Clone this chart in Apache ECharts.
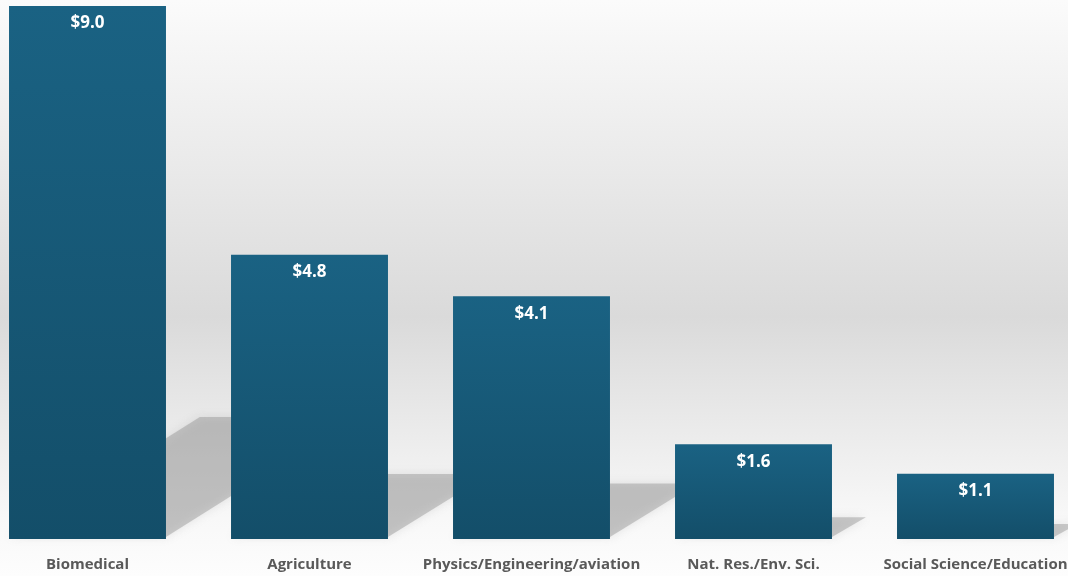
<!DOCTYPE html>
<html>
<head>
<meta charset="utf-8">
<script src="https://cdn.jsdelivr.net/npm/echarts@6/dist/echarts.min.js"></script>
<style>
html,body{margin:0;padding:0;}
#chart{width:1068px;height:576px;}
</style>
</head>
<body>
<div id="chart"></div>
<script>
const categories = ['Biomedical', 'Agriculture', 'Physics/Engineering/aviation', 'Nat. Res./Env. Sci.', 'Social Science/Education'];
const values = [9.0, 4.8, 4.1, 1.6, 1.1];

const chart = echarts.init(document.getElementById('chart'));

const BAR_FRAC = 0.707;

function shadowItem(params, api) {
  const idx = api.value(0);
  const v = api.value(1);
  const base = api.coord([idx, 0]);
  const top = api.coord([idx, v]);
  const bw = api.size([1, 0])[0] * BAR_FRAC;
  const xL = base[0] - bw / 2;
  const xR = base[0] + bw / 2;
  const yb = base[1];
  const h = yb - top[1];
  const dx = 0.358 * h;
  const dy = 0.229 * h;
  return {
    type: 'polygon',
    shape: { points: [[xL, yb - 2], [xR, yb - 2], [xR + dx, yb - dy], [xL + dx, yb - dy]] },
    style: {
      fill: 'rgba(140,140,140,0.42)',
      shadowBlur: 10,
      shadowColor: 'rgba(140,140,140,0.45)'
    }
  };
}

chart.setOption({
  backgroundColor: new echarts.graphic.LinearGradient(0, 0, 0, 1, [
    { offset: 0, color: '#fbfbfb' },
    { offset: 0.55, color: '#dadada' },
    { offset: 0.9, color: '#f8f8f8' },
    { offset: 1, color: '#fdfdfd' }
  ]),
  animation: false,
  grid: { left: -23.5, width: 1110, top: 6, bottom: 37, outerBoundsMode: 'none', containLabel: false },
  xAxis: {
    type: 'category',
    data: categories,
    axisLine: { show: false },
    axisTick: { show: false },
    axisLabel: {
      interval: 0,
      margin: 18,
      color: '#595959',
      fontWeight: 'bold',
      fontSize: 15,
      fontFamily: 'Open Sans, Noto Sans, sans-serif'
    }
  },
  yAxis: {
    type: 'value',
    min: 0,
    max: 9,
    show: false,
    splitLine: { show: false }
  },
  series: [
    {
      type: 'custom',
      renderItem: shadowItem,
      data: values.map((v, i) => [i, v]),
      z: 1,
      silent: true
    },
    {
      type: 'bar',
      data: values,
      barWidth: (BAR_FRAC * 100) + '%',
      z: 2,
      itemStyle: {
        color: new echarts.graphic.LinearGradient(0, 0, 0, 1, [
          { offset: 0, color: '#1a6283' },
          { offset: 1, color: '#134e69' }
        ])
      },
      label: {
        show: true,
        position: 'insideTop',
        distance: 9,
        color: '#ffffff',
        fontWeight: 'bold',
        fontSize: 17,
        fontFamily: 'Open Sans, Noto Sans, sans-serif',
        formatter: p => '$' + p.value.toFixed(1)
      }
    }
  ]
});
</script>
</body>
</html>
